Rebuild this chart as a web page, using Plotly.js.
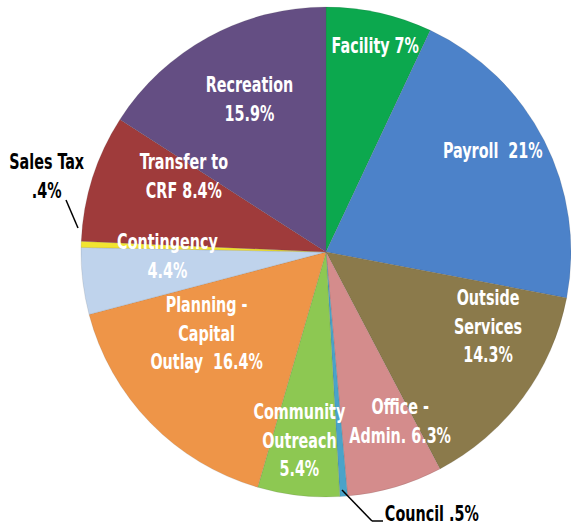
<!DOCTYPE html>
<html>
<head>
<meta charset="utf-8">
<script src="https://cdn.plot.ly/plotly-3.0.1.min.js"></script>
<style>
html,body{margin:0;padding:0;background:#fff;}
#chart{width:571px;height:529px;}
</style>
</head>
<body>
<div id="chart"></div>
<script>
// ---- data ----
var categories = ["Facility", "Payroll", "Outside Services", "Office - Admin.", "Council",
  "Community Outreach", "Planning - Capital Outlay", "Contingency", "Sales Tax",
  "Transfer to CRF", "Recreation"];
var values = [7, 21, 14.3, 6.3, 0.5, 5.4, 16.4, 4.4, 0.4, 8.4, 15.9];
var sliceLabels = ["Facility 7%", "Payroll\u00a0\u00a021%", "Outside<br>Services<br>14.3%",
  "Office -<br>Admin. 6.3%", "Council .5%", "Community<br>Outreach<br>5.4%",
  "Planning -<br>Capital<br>Outlay\u00a0\u00a016.4%", "Contingency<br>4.4%",
  "Sales Tax<br>.4%", "Transfer to<br>CRF 8.4%", "Recreation<br>15.9%"];
var colors = ["#0ca84e", "#4c82c9", "#8b7a4b", "#d48c8c", "#4aa3c9", "#8dc852",
  "#ee9548", "#bfd3ec", "#f2e431", "#9f3b3b", "#644e83"];

// ---- layout helpers (positions, in pixels of the 571x529 page) ----
var W = 571, H = 529;
var labelPos = [[375, 46], [493, 150], [488, 326], [400, 421], [432, 513], [299, 440],
  [206, 333], [167, 256], [47, 176], [184, 176], [249, 99]];
var labelColor = ["#fff", "#fff", "#fff", "#fff", "#000", "#fff", "#fff", "#fff", "#000", "#fff", "#fff"];
var FONT = "'DejaVu Sans Condensed', 'DejaVu Sans', sans-serif";

var annotations = categories.map(function (c, i) {
  return {
    xref: "paper", yref: "paper",
    x: labelPos[i][0] / W, y: 1 - labelPos[i][1] / H,
    xanchor: "center", yanchor: "middle",
    text: "<b>" + sliceLabels[i] + "</b>",
    showarrow: false, align: "center",
    font: {family: FONT, size: 22, color: labelColor[i]}
  };
});

function seg(x0, y0, x1, y1) {
  return {type: "line", xref: "paper", yref: "paper",
    x0: x0 / W, y0: 1 - y0 / H, x1: x1 / W, y1: 1 - y1 / H,
    line: {color: "#000", width: 1.5}};
}
var shapes = [seg(66, 200, 78, 228), seg(342, 490, 372, 521), seg(372, 521, 383, 521)];

var cx = 326, cy = 252, r = 245;
var trace = {
  type: "pie",
  labels: categories,
  values: values,
  sort: false,
  direction: "clockwise",
  rotation: 0,
  textinfo: "none",
  hoverinfo: "label+percent",
  marker: {colors: colors, line: {color: "rgba(60,60,60,0.25)", width: 0.5}},
  domain: {x: [(cx - r) / W, (cx + r) / W], y: [1 - (cy + r) / H, 1 - (cy - r) / H]},
  showlegend: false
};

var layout = {
  width: W, height: H,
  margin: {l: 0, r: 0, t: 0, b: 0},
  paper_bgcolor: "#fff",
  showlegend: false,
  annotations: annotations,
  shapes: shapes
};

Plotly.newPlot("chart", [trace], layout, {displayModeBar: false, staticPlot: true}).then(function () {
  // narrow the label glyphs horizontally around each label's centre (condensed display face look)
  document.querySelectorAll("#chart .annotation-text").forEach(function (el) {
    var b = el.getBBox();
    var mx = b.x + b.width / 2;
    el.setAttribute("transform", "translate(" + mx + ",0) scale(0.725,1) translate(" + (-mx) + ",0)");
  });
});
</script>
</body>
</html>
